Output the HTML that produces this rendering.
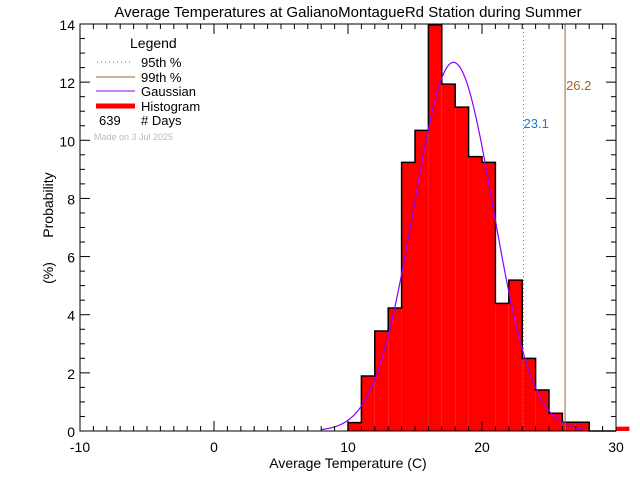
<!DOCTYPE html>
<html><head><meta charset="utf-8"><style>
body{margin:0;background:#fff}
svg{display:block;font-family:"Liberation Sans",sans-serif}
</style></head><body>
<svg id="c" width="640" height="480" viewBox="0 0 640 480">
<text x="348" y="17" font-size="15" text-anchor="middle">Average Temperatures at GalianoMontagueRd Station during Summer</text>
<g id="marks"></g>
<g id="axes"></g>
<text x="348" y="468" font-size="14" text-anchor="middle">Average Temperature (C)</text>
<text transform="translate(53,205) rotate(-90)" font-size="14" text-anchor="middle">Probability</text>
<text transform="translate(53,273) rotate(-90)" font-size="14" text-anchor="middle">(%)</text>
<g>
<text x="130" y="48" font-size="14">Legend</text>
<line x1="97" y1="62" x2="133" y2="62" stroke="#1e78d2" stroke-dasharray="1,3"/>
<text x="141" y="67" font-size="13">95th %</text>
<line x1="96" y1="77" x2="135" y2="77" stroke="#a0642d"/>
<text x="141" y="82" font-size="13">99th %</text>
<line x1="96" y1="91" x2="135" y2="91" stroke="#8c00ff"/>
<text x="141" y="96" font-size="13">Gaussian</text>
<line x1="96" y1="106" x2="135" y2="106" stroke="#f00" stroke-width="5"/>
<text x="141" y="111" font-size="13">Histogram</text>
<text x="99" y="125" font-size="13">639</text>
<text x="141" y="125" font-size="13"># Days</text>
<text x="94" y="140" font-size="9" fill="#bbb">Made on 3 Jul 2025</text>
</g>
</svg>
<script>
const binStarts=[10,11,12,13,14,15,16,17,18,19,20,21,22,23,24,25,26,27,28,29,30];
const binValues=[0.29,1.89,3.44,4.23,9.24,10.34,13.97,11.93,11.14,9.44,9.24,4.39,5.19,2.50,1.41,0.61,0.30,0.30,0,0,0.15];
const gaussMean=17.87, gaussSigma=2.96, gaussPeak=12.68;
const pct95=23.1, pct99=26.2;
const xTicks=[-10,0,10,20,30];
const yTicks=[0,2,4,6,8,10,12,14];
const NS="http://www.w3.org/2000/svg";
const X0=80,X1=616,Y0=431,Y1=24;
const sx=v=>X0+(v+10)/40*(X1-X0);
const sy=v=>Y0-v/14*(Y0-Y1);
function mk(t,a,p){const e=document.createElementNS(NS,t);for(const k in a)e.setAttribute(k,a[k]);p.appendChild(e);return e;}
const marks=document.getElementById('marks'),axes=document.getElementById('axes');
// histogram fill
binStarts.forEach((b,i)=>{if(binValues[i]<=0)return;
const r=mk('rect',{x:sx(b),y:sy(binValues[i]),width:sx(b+1)-sx(b),height:Y0-sy(binValues[i]),fill:'#f00'},marks);

});
// outline step
let d='';binStarts.forEach((b,i)=>{if(b>=30)return;const y=sy(binValues[i]);d+=(i?'L':'M')+sx(b)+' '+(i?y:Y0)+' L'+sx(b)+' '+y+' L'+sx(b+1)+' '+y;});
d+=' L'+sx(30)+' '+Y0;
const ol=mk('path',{d:d,fill:'none',stroke:'#000','stroke-width':1.5},marks);


// gaussian
let g='';for(let t=8;t<=27.7;t+=0.05){const v=gaussPeak*Math.exp(-Math.pow(t-gaussMean,2)/(2*gaussSigma*gaussSigma));g+=(g?'L':'M')+sx(t).toFixed(2)+' '+sy(v).toFixed(2);}
const gl=mk('path',{d:g,fill:'none',stroke:'#8c00ff','stroke-width':1.2},marks);


// percentiles
const p95=mk('line',{x1:sx(pct95),x2:sx(pct95),y1:Y1,y2:Y0,stroke:'#a0642d','stroke-dasharray':'1,3'},marks);


const p99=mk('line',{x1:sx(pct99),x2:sx(pct99),y1:Y1,y2:Y0,stroke:'#a0642d'},marks);


const t95=mk('text',{x:sx(pct95),y:128,'font-size':13,fill:'#1e78d2'},marks);t95.textContent=pct95.toFixed(1);


const t99=mk('text',{x:sx(pct99)+1,y:90,'font-size':13,fill:'#a0642d'},marks);t99.textContent=pct99.toFixed(1);


// frame
const fr=mk('rect',{x:X0,y:Y1,width:X1-X0,height:Y0-Y1,fill:'none',stroke:'#000'},axes);


// ticks
for(let v=-10;v<=30;v++){const L=v%10===0?10:5;
mk('line',{x1:sx(v),x2:sx(v),y1:Y0,y2:Y0-L,stroke:'#000'},axes);
mk('line',{x1:sx(v),x2:sx(v),y1:Y1,y2:Y1+L,stroke:'#000'},axes);}
for(let v=0;v<=14;v+=0.5){const L=v%2===0?10:5;
mk('line',{x1:X0,x2:X0+L,y1:sy(v),y2:sy(v),stroke:'#000'},axes);
mk('line',{x1:X1,x2:X1-L,y1:sy(v),y2:sy(v),stroke:'#000'},axes);}
xTicks.forEach(v=>{const t=mk('text',{x:sx(v),y:452,'font-size':14,'text-anchor':'middle'},axes);t.textContent=v;

});
yTicks.forEach(v=>{const t=mk('text',{x:75,y:sy(v)+6,'font-size':14,'text-anchor':'end'},axes);t.textContent=v;

});
</script>
</body></html>
